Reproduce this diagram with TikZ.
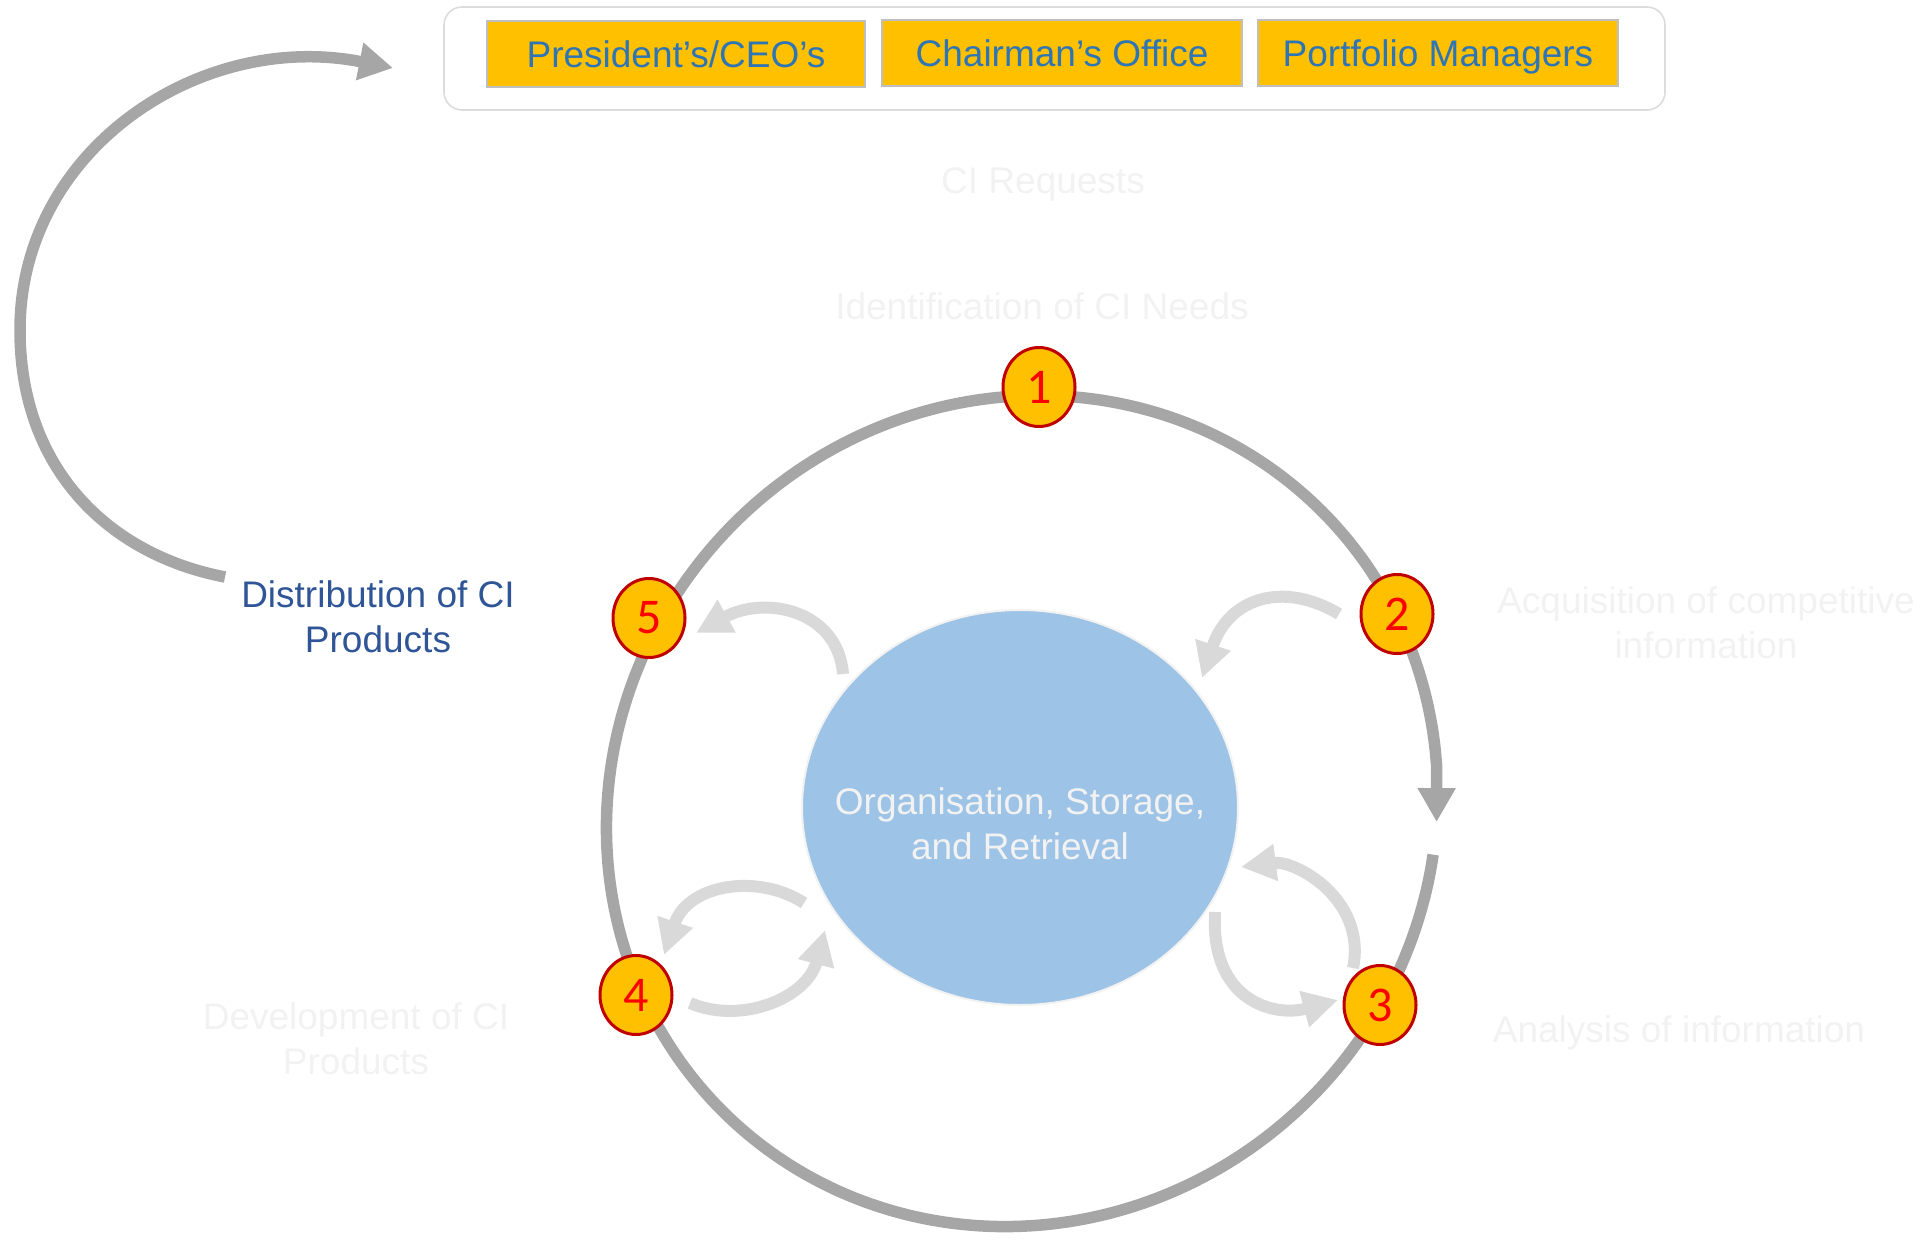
\documentclass[tikz,border=0pt]{standalone}
\usepackage{fontspec}
\setmainfont{Liberation Sans}
\newfontfamily\numfont{Carlito}
\usetikzlibrary{shapes.geometric,arrows.meta}
\definecolor{arrgray}{HTML}{A6A6A6}
\definecolor{lightarr}{HTML}{D9D9D9}
\definecolor{gold}{HTML}{FFC000}
\definecolor{darkred}{HTML}{C00000}
\definecolor{boxblue}{HTML}{2E75B6}
\definecolor{navy}{HTML}{2F5597}
\definecolor{faint}{HTML}{F2F2F2}
\definecolor{corefill}{HTML}{9DC3E6}
\definecolor{boxborder}{HTML}{BFBFBF}
\definecolor{framecol}{HTML}{DCDCDC}
\begin{document}
\begin{tikzpicture}[x=0.5pt,y=-0.5pt,
  txt/.style={font=\fontsize{18.5}{22.3}\selectfont, align=center, inner sep=0pt},
  faded/.style={txt, text=faint},
  rolebox/.style={txt, fill=gold, draw=boxborder, line width=1pt, text=boxblue, minimum height=33pt, text height=13.5pt, text depth=0pt},
  stepnum/.style={ellipse, fill=gold, draw=darkred, line width=1.5pt, minimum width=36pt, minimum height=39.5pt, inner sep=0pt, text=red, font=\numfont\fontsize{25}{25}\selectfont},
  bigarrow/.style={draw=arrgray, line width=5.75pt, -{Triangle[length=17pt,width=18pt]}},
  smallarrow/.style={draw=lightarr, line width=6pt, -{Triangle[length=17.5pt,width=17.5pt]}},
]
\useasboundingbox (0,0) rectangle (1926,1242);

% top frame with role boxes
\node[draw=framecol, line width=0.8pt, rounded corners=9pt, minimum width=610.5pt, minimum height=51.5pt, inner sep=0pt] (frame) at (1054.5,58.5) {};
\node[rolebox, minimum width=189pt] (ceo) at (676,54) {President’s/CEO’s};
\node[rolebox, minimum width=180pt] (chair) at (1062,53) {Chairman’s Office};
\node[rolebox, minimum width=180pt] (pm) at (1438,53) {Portfolio Managers};

% faded labels
\node[faded] (req) at (1043,184) {CI Requests};
\node[faded] (ident) at (1042,306) {Identification of CI Needs};
\node[faded] (acq) at (1706,623) {Acquisition of competitive\\information};
\node[faded] (anal) at (1679,1033) {Analysis of information};
\node[faded] (dev) at (356,1039) {Development of CI\\Products};
\node[txt, text=navy] (dist) at (378,617) {Distribution of CI\\Products};

% outer ring (slightly oval) with arrow into the gap
\coordinate (ringtip) at (1436.6,822);
\draw[bigarrow] plot[domain=52.2:400, samples=140, smooth, variable=\t]
  ({1022+0.7071*(424*cos(\t)+407*sin(\t))},{811+0.7071*(-424*cos(\t)+407*sin(\t))}) -- (ringtip);

% feedback arrow from distribution to the top
\coordinate (fbstart) at (225,577);
\coordinate (fbleft) at (20,330);
\coordinate (fbtip) at (393,68);
\draw[bigarrow] (fbstart) .. controls (110,555) and (20,470) .. (fbleft)
  .. controls (20,150) and (200,30) .. (fbtip);

% central store
\node[ellipse, fill=corefill, draw=faint, line width=1pt, minimum width=218pt, minimum height=197.5pt, inner sep=0pt] (core) at (1020,807.5) {};
\node[txt, text=faint] (coretext) at (1020,824) {Organisation, Storage,\\and Retrieval};

% light exchange arrows
\coordinate (a5s) at (843,674);  \coordinate (a5e) at (696,633);
\coordinate (a2s) at (1339,614); \coordinate (a2e) at (1202,678);
\coordinate (a3s) at (1215,912); \coordinate (a3e) at (1338,1000);
\coordinate (b3s) at (1353,968); \coordinate (b3e) at (1241,867);
\coordinate (a4s) at (804,903);  \coordinate (a4e) at (664,955);
\coordinate (b4s) at (690,1003); \coordinate (b4e) at (825,930);
\draw[smallarrow] (a5s) .. controls (838,610) and (765,595) .. (a5e);
\draw[smallarrow] (a2s) .. controls (1284,581) and (1229,597) .. (a2e);
\draw[smallarrow] (a3s) .. controls (1210,1002) and (1275,1017) .. (a3e);
\draw[smallarrow] (b3s) .. controls (1367,899) and (1295,860) .. (b3e);
\draw[smallarrow] (a4s) .. controls (758,873) and (688,884) .. (a4e);
\draw[smallarrow] (b4s) .. controls (741,1025) and (807,998) .. (b4e);

% numbered steps
\node[stepnum] (s1) at (1039,387) {1};
\node[stepnum] (s2) at (1397,614) {2};
\node[stepnum] (s3) at (1380,1005) {3};
\node[stepnum] (s4) at (636,995) {4};
\node[stepnum] (s5) at (649,618) {5};
\end{tikzpicture}
\end{document}
